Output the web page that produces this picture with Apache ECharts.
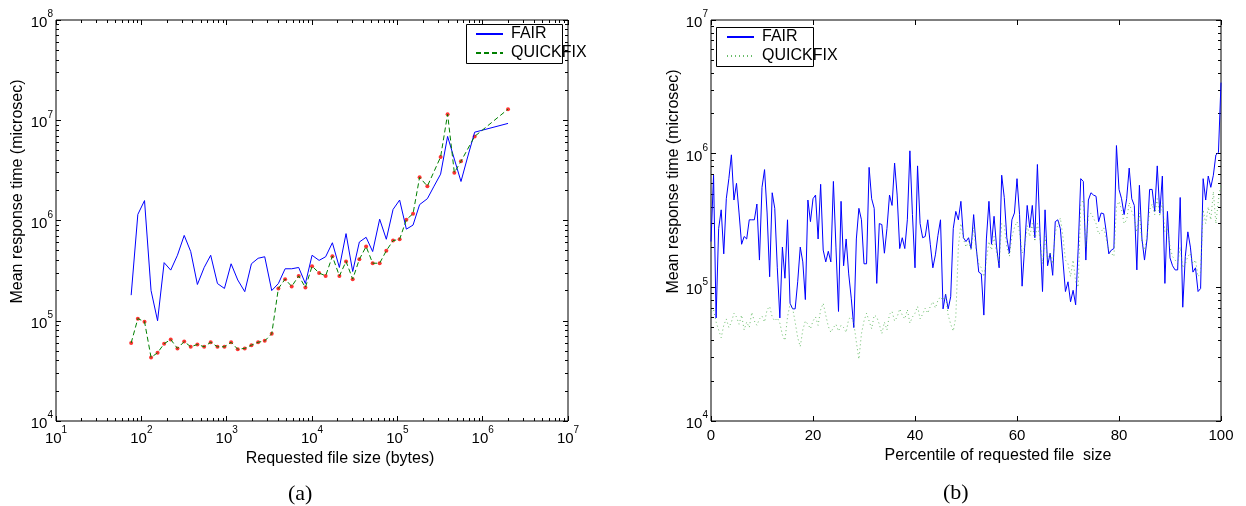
<!DOCTYPE html>
<html><head><meta charset="utf-8">
<script src="https://cdn.jsdelivr.net/npm/echarts@6/dist/echarts.min.js"></script>
<style>html,body{margin:0;padding:0;background:#fff}#c{width:1246px;height:506px}</style>
</head><body><div id="c"></div>
<script>
// ---------- Panel (a): response time vs requested file size ----------
const sizesA = [76,91,109,130,155,185,221,265,318,379,454,545,650,780,942,1127,1349,1629,1950,2337,2793,3373,4036,4842,5781,6982,8370,10020,12110,14450,17330,20940,25060,29990,35890,43050,51400,62090,74300,89130,106400,127600,152800,182400,224900,269200,321400,388200,465600,557200,666800,805400,1982000];
const fairA = [1.8e5,1.15e6,1.58e6,2.0e5,1.0e5,3.8e5,3.2e5,4.5e5,7.1e5,4.9e5,2.3e5,3.4e5,4.5e5,2.35e5,2.1e5,3.7e5,2.55e5,1.95e5,3.7e5,4.2e5,4.35e5,2.0e5,2.35e5,3.3e5,3.3e5,3.4e5,2.35e5,4.5e5,4.0e5,4.35e5,6.0e5,3.4e5,7.4e5,3.1e5,6.1e5,6.8e5,4.9e5,1.03e6,6.5e5,1.29e6,1.6e6,8.2e5,9.0e5,1.44e6,1.65e6,2.2e6,2.9e6,6.9e6,4.1e6,2.45e6,4.3e6,7.6e6,9.3e6];
const quickA = [6.0e4,1.05e5,9.8e4,4.3e4,4.8e4,5.9e4,6.5e4,5.3e4,6.2e4,5.5e4,5.8e4,5.5e4,6.1e4,5.5e4,5.5e4,6.1e4,5.2e4,5.3e4,5.7e4,6.1e4,6.3e4,7.4e4,2.1e5,2.6e5,2.2e5,2.8e5,2.15e5,3.5e5,3.0e5,2.8e5,4.4e5,2.8e5,3.9e5,2.6e5,4.1e5,5.5e5,3.75e5,3.75e5,5.0e5,6.3e5,6.5e5,1.02e6,1.17e6,2.7e6,2.2e6,null,4.3e6,1.15e7,3.0e6,3.9e6,null,6.9e6,1.29e7];
const xTicksA = [1e1,1e2,1e3,1e4,1e5,1e6,1e7];
const yTicksA = [1e4,1e5,1e6,1e7,1e8];

// ---------- Panel (b): response time vs percentile of file size ----------
const pctB = [0,0.5,1,1.5,2,2.5,3,3.5,4,4.5,5,5.5,6,6.5,7,7.5,8,8.5,9,9.5,10,10.5,11,11.5,12,12.5,13,13.5,14,14.5,15,15.5,16,16.5,17,17.5,18,18.5,19,19.5,20,20.5,21,21.5,22,22.5,23,23.5,24,24.5,25,25.5,26,26.5,27,27.5,28,28.5,29,29.5,30,30.5,31,31.5,32,32.5,33,33.5,34,34.5,35,35.5,36,36.5,37,37.5,38,38.5,39,39.5,40,40.5,41,41.5,42,42.5,43,43.5,44,44.5,45,45.5,46,46.5,47,47.5,48,48.5,49,49.5,50,50.5,51,51.5,52,52.5,53,53.5,54,54.5,55,55.5,56,56.5,57,57.5,58,58.5,59,59.5,60,60.5,61,61.5,62,62.5,63,63.5,64,64.5,65,65.5,66,66.5,67,67.5,68,68.5,69,69.5,70,70.5,71,71.5,72,72.5,73,73.5,74,74.5,75,75.5,76,76.5,77,77.5,78,78.5,79,79.5,80,80.5,81,81.5,82,82.5,83,83.5,84,84.5,85,85.5,86,86.5,87,87.5,88,88.5,89,89.5,90,90.5,91,91.5,92,92.5,93,93.5,94,94.5,95,95.5,96,96.5,97,97.5,98,98.5,99,99.5,100];
const fairB = [2.2e5,6.9e5,5.9e4,2.75e5,3.8e5,1.78e5,4.6e5,6.5e5,9.8e5,4.5e5,
6.0e5,3.6e5,2.1e5,2.4e5,2.3e5,3.2e5,3.2e5,3.2e5,4.2e5,1.6e5,
5.6e5,7.6e5,3.6e5,1.2e5,5.1e5,3.9e5,1.4e5,5.9e4,2.0e5,1.17e5,
3.2e5,7.6e4,6.9e4,6.9e4,1.1e5,2.0e5,1.55e5,8.1e4,4.5e5,3.1e5,
4.6e5,4.9e5,2.3e5,5.9e5,1.9e5,1.55e5,1.86e5,1.55e5,6.2e5,2.0e5,
6.6e4,4.4e5,1.45e5,2.3e5,1.26e5,8.3e4,5.0e4,2.3e5,3.9e5,3.2e5,
1.5e5,1.5e5,7.9e5,4.6e5,3.9e5,1.07e5,3.0e5,2.95e5,1.8e5,2.75e5,
4.9e5,4.1e5,8.5e5,4.9e5,1.95e5,2.35e5,1.95e5,3.2e5,1.05e6,3.5e5,
1.4e5,8.1e5,3.0e5,2.35e5,2.4e5,3.2e5,2.1e5,1.4e5,1.75e5,2.45e5,
3.2e5,6.9e4,8.9e4,6.9e4,8.5e4,2.75e5,3.7e5,3.2e5,4.4e5,2.35e5,
2.2e5,2.35e5,1.95e5,3.5e5,2.0e5,1.3e5,1.26e5,6.2e4,2.3e5,4.4e5,
2.1e5,3.4e5,2.0e5,1.4e5,6.9e5,4.7e5,2.35e5,1.8e5,3.2e5,3.6e5,
6.5e5,3.5e5,1.02e5,2.0e5,4.1e5,2.8e5,4.1e5,2.35e5,8.3e5,2.6e5,
9.3e4,3.8e5,1.45e5,1.8e5,1.23e5,3.1e5,3.2e5,2.75e5,1.6e5,9.3e4,
1.1e5,7.8e4,9.5e4,7.4e4,1.95e5,6.5e5,6.2e5,1.6e5,4.5e5,5.1e5,
4.9e5,4.8e5,3.1e5,3.6e5,3.55e5,2.6e5,1.78e5,1.9e5,1.95e5,1.15e6,
5.4e5,4.6e5,3.5e5,4.6e5,7.8e5,4.6e5,4.1e5,1.35e5,5.8e5,2.3e5,
1.6e5,2.3e5,5.4e5,5.4e5,3.7e5,8.1e5,3.6e5,6.8e5,1.07e5,3.7e5,
1.66e5,1.45e5,1.35e5,1.35e5,4.7e5,7.1e4,1.7e5,2.6e5,2.0e5,1.3e5,
1.4e5,9.3e4,9.8e4,6.5e5,4.5e5,6.8e5,5.6e5,6.9e5,9.8e5,1.02e6,
3.4e6];
const quickB = [6.5e4,6.8e4,5.5e4,4.8e4,4.2e4,5.2e4,5.8e4,5.0e4,5.5e4,6.4e4,
6.0e4,5.3e4,6.2e4,4.8e4,5.5e4,5.0e4,6.5e4,5.6e4,5.2e4,5.8e4,
6.1e4,5.5e4,6.8e4,7.2e4,6.0e4,5.6e4,5.9e4,5.4e4,4.4e4,4.0e4,
6.0e4,7.5e4,7.0e4,5.5e4,4.2e4,3.6e4,4.8e4,5.6e4,5.3e4,4.9e4,
5.6e4,6.0e4,5.2e4,6.8e4,7.6e4,6.2e4,5.1e4,4.6e4,5.0e4,5.3e4,
4.7e4,5.2e4,5.0e4,4.6e4,5.8e4,6.0e4,5.4e4,3.9e4,2.9e4,4.5e4,
5.6e4,6.4e4,5.6e4,4.9e4,6.2e4,6.0e4,5.3e4,4.5e4,5.5e4,4.8e4,
6.3e4,6.6e4,5.6e4,6.0e4,6.9e4,6.2e4,5.8e4,6.8e4,5.4e4,6.0e4,
6.4e4,7.2e4,5.8e4,6.3e4,7.0e4,6.4e4,7.2e4,7.8e4,7.0e4,8.0e4,
8.5e4,8.0e4,8.8e4,6.2e4,5.3e4,4.7e4,6.0e4,
2.0e5,3.0e5,2.3e5,2.0e5,2.2e5,1.9e5,2.8e5,1.9e5,1.5e5,1.4e5,
1.2e5,1.6e5,2.2e5,1.9e5,2.4e5,1.8e5,1.5e5,3.0e5,2.9e5,2.0e5,
1.7e5,2.4e5,2.8e5,3.1e5,2.6e5,1.8e5,2.0e5,2.9e5,2.4e5,3.0e5,
2.2e5,3.0e5,2.3e5,1.5e5,2.4e5,1.6e5,1.8e5,1.5e5,2.6e5,2.9e5,
3.3e5,2.4e5,1.6e5,1.5e5,1.2e5,1.6e5,1.1e5,1.0e5,4.2e5,4.5e5,
2.0e5,3.4e5,3.6e5,3.3e5,3.0e5,2.5e5,2.6e5,2.8e5,2.3e5,1.9e5,
1.8e5,1.7e5,4.0e5,4.4e5,3.8e5,3.0e5,3.2e5,4.3e5,3.7e5,3.3e5,
2.6e5,3.6e5,2.2e5,1.9e5,2.4e5,3.8e5,4.2e5,3.5e5,4.6e5,3.4e5,
4.3e5,2.6e5,2.8e5,2.0e5,1.7e5,1.6e5,1.5e5,2.0e5,1.4e5,1.5e5,
1.7e5,1.8e5,1.5e5,1.6e5,1.2e5,1.3e5,3.8e5,3.0e5,4.0e5,3.2e5,
5.2e5,3.0e5,4.5e5,6.0e5];
const xTicksB = [0,20,40,60,80,100];
const yTicksB = [1e4,1e5,1e6,1e7];

// ---------- styling helpers ----------
const FONT = '"Liberation Sans", Arial, Helvetica, sans-serif';
function minorLog(lo, hi){ const out=[]; for(let d=lo; d<hi; d++) for(let k=2;k<=9;k++) out.push(k*Math.pow(10,d)); return out; }
const supFmt = v => '{b|10}{s|' + Math.round(Math.log10(v)) + '}';
const rich = {
  b:{fontSize:15, fontFamily:FONT, color:'#000', lineHeight:21, verticalAlign:'bottom'},
  s:{fontSize:10, fontFamily:FONT, color:'#000', lineHeight:12, verticalAlign:'top'}
};
function axis(base, ticks, len, labelCfg){
  return Object.assign({
    axisLine:{show:false}, splitLine:{show:false},
    axisTick:{show:true, inside:true, length:len, customValues:ticks, lineStyle:{color:'#000', width:1}},
    axisLabel: labelCfg || {show:false}
  }, base);
}

const xAxes = [
  axis({type:'log', gridIndex:0, position:'bottom', min:10, max:1e7,
        name:'Requested file size (bytes)', nameLocation:'middle', nameGap:26,
        nameTextStyle:{fontSize:16, fontFamily:FONT, color:'#000', padding:[0,0,0,56]}},
       xTicksA, 5, {show:true, customValues:xTicksA, formatter:supFmt, rich:rich, margin:4}),
  axis({type:'log', gridIndex:0, position:'bottom', min:10, max:1e7}, minorLog(1,7), 3),
  axis({type:'log', gridIndex:0, position:'top', min:10, max:1e7}, xTicksA, 5),
  axis({type:'log', gridIndex:0, position:'top', min:10, max:1e7}, minorLog(1,7), 3),
  axis({type:'value', gridIndex:1, position:'bottom', min:0, max:100, interval:20,
        name:'Percentile of requested file  size', nameLocation:'middle', nameGap:24,
        nameTextStyle:{fontSize:16, fontFamily:FONT, color:'#000', padding:[0,0,0,64]}},
       xTicksB, 5, {show:true, customValues:xTicksB, fontSize:15, fontFamily:FONT, color:'#000', margin:7}),
  axis({type:'value', gridIndex:1, position:'top', min:0, max:100, interval:20}, xTicksB, 5)
];
const yAxes = [
  axis({type:'log', gridIndex:0, position:'left', min:1e4, max:1e8,
        name:'Mean response time (microsec)', nameLocation:'middle', nameGap:30,
        nameTextStyle:{fontSize:16, fontFamily:FONT, color:'#000', padding:[0,0,0,58]}},
       yTicksA, 5, {show:true, customValues:yTicksA, formatter:supFmt, rich:rich, margin:3}),
  axis({type:'log', gridIndex:0, position:'left', min:1e4, max:1e8}, minorLog(4,8), 3),
  axis({type:'log', gridIndex:0, position:'right', min:1e4, max:1e8}, yTicksA, 5),
  axis({type:'log', gridIndex:0, position:'right', min:1e4, max:1e8}, minorLog(4,8), 3),
  axis({type:'log', gridIndex:1, position:'left', min:1e4, max:1e7,
        name:'Mean response time (microsec)', nameLocation:'middle', nameGap:28,
        nameTextStyle:{fontSize:16, fontFamily:FONT, color:'#000', padding:[0,0,0,78]}},
       yTicksB, 5, {show:true, customValues:yTicksB, formatter:supFmt, rich:rich, margin:3}),
  axis({type:'log', gridIndex:1, position:'left', min:1e4, max:1e7}, minorLog(4,7), 3),
  axis({type:'log', gridIndex:1, position:'right', min:1e4, max:1e7}, yTicksB, 5),
  axis({type:'log', gridIndex:1, position:'right', min:1e4, max:1e7}, minorLog(4,7), 3)
];

const pairsA = (ys) => sizesA.map((x,i)=>[x, ys[i]]).filter(d => d[1] != null);
const pairsB = (ys) => pctB.map((x,i)=>[x, ys[i]]);

const legendBase = {
  orient:'vertical', itemWidth:27, itemHeight:12, itemGap:3,
  borderWidth:0, backgroundColor:'transparent',
  itemStyle:{opacity:0},
  textStyle:{fontSize:16, fontFamily:FONT, color:'#000', lineHeight:16, padding:[0,0,0,3]},
  formatter: n => n.replace('(b)','')
};

const option = {
  animation:false,
  backgroundColor:'#fff',
  title:[
    {text:'(a)', left:283, top:478, textStyle:{fontFamily:'"Liberation Serif", "Times New Roman", serif', fontWeight:'normal', fontSize:22, color:'#000'}},
    {text:'(b)', left:938, top:477, textStyle:{fontFamily:'"Liberation Serif", "Times New Roman", serif', fontWeight:'normal', fontSize:22, color:'#000'}}
  ],
  graphic:[
    {type:'rect', left:466, top:24, shape:{width:96, height:39}, style:{fill:'#fff', stroke:'#000', lineWidth:1}, z:0},
    {type:'rect', left:716, top:27, shape:{width:97, height:39}, style:{fill:'#fff', stroke:'#000', lineWidth:1}, z:0}
  ],
  legend:[
    Object.assign({}, legendBase, {data:['FAIR','QUICKFIX'], left:466, top:24, padding:[2,2,2,9]}),
    Object.assign({}, legendBase, {data:['FAIR(b)','QUICKFIX(b)'], left:716, top:27, padding:[2,2,2,10]})
  ],
  grid:[
    {left:56, top:20, width:512, height:401, show:true, borderColor:'#000', borderWidth:1, backgroundColor:'transparent'},
    {left:711, top:20, width:510, height:401, show:true, borderColor:'#000', borderWidth:1, backgroundColor:'transparent'}
  ],
  xAxis:xAxes,
  yAxis:yAxes,
  series:[
    {name:'FAIR', type:'line', xAxisIndex:0, yAxisIndex:0, data:pairsA(fairA), symbol:'none',
     lineStyle:{color:'#0000ff', width:1}, itemStyle:{color:'#0000ff'}},
    {name:'QUICKFIX', type:'line', xAxisIndex:0, yAxisIndex:0, data:pairsA(quickA), symbol:'none',
     lineStyle:{color:'#008000', width:1, type:[5,3]}, itemStyle:{color:'#008000'}},
    {name:'QUICKFIX pts', type:'scatter', xAxisIndex:0, yAxisIndex:0, data:pairsA(quickA), symbol:'circle', symbolSize:4,
     itemStyle:{color:'#ff0000'}},
    {name:'FAIR(b)', type:'line', xAxisIndex:4, yAxisIndex:4, data:pairsB(fairB), symbol:'none',
     lineStyle:{color:'#0000ff', width:1}, itemStyle:{color:'#0000ff'}},
    {name:'QUICKFIX(b)', type:'line', xAxisIndex:4, yAxisIndex:4, data:pairsB(quickB), symbol:'none',
     lineStyle:{color:'#4fb04f', width:1, type:[1,3], opacity:0.85}, itemStyle:{color:'#4fb04f'}}
  ]
};
const chart = echarts.init(document.getElementById('c'), null, {renderer:'canvas'});
chart.setOption(option);
</script>
</body></html>
